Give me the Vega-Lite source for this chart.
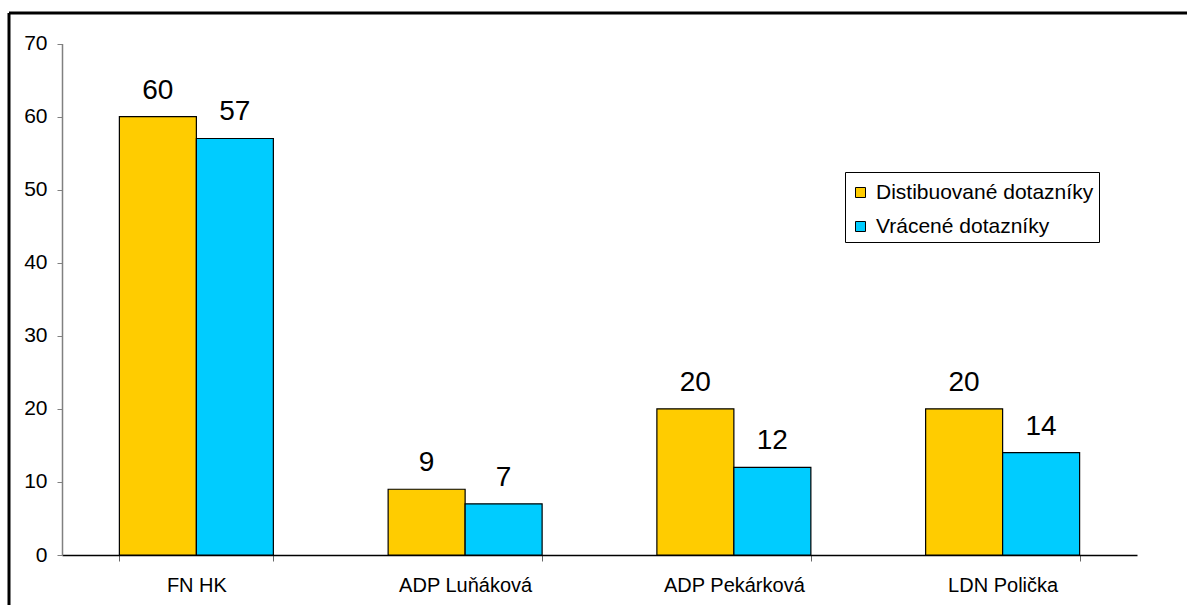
{
  "$schema": "https://vega.github.io/schema/vega-lite/v6.json",
  "autosize": {"type": "none"},
  "padding": {"left": 9, "top": 13, "right": 0, "bottom": 0},
  "width": 1178,
  "height": 592,
  "background": "white",
  "config": {
    "view": {"stroke": "black", "strokeWidth": 3, "strokeDash": [1178, 1770, 592, 0]},
    "font": "Liberation Sans"
  },
  "data": {
    "values": [
      {"place": "FN HK", "series": "Distibuované dotazníky", "value": 60},
      {"place": "FN HK", "series": "Vrácené dotazníky", "value": 57},
      {"place": "ADP Luňáková", "series": "Distibuované dotazníky", "value": 9},
      {"place": "ADP Luňáková", "series": "Vrácené dotazníky", "value": 7},
      {"place": "ADP Pekárková", "series": "Distibuované dotazníky", "value": 20},
      {"place": "ADP Pekárková", "series": "Vrácené dotazníky", "value": 12},
      {"place": "LDN Polička", "series": "Distibuované dotazníky", "value": 20},
      {"place": "LDN Polička", "series": "Vrácené dotazníky", "value": 14}
    ]
  },
  "encoding": {
    "x": {
      "field": "place",
      "type": "nominal",
      "sort": null,
      "title": null,
      "scale": {"range": [53, 1128], "paddingInner": 0.427, "paddingOuter": 0.2135},
      "axis": {
        "offset": -50,
        "labelAngle": 0,
        "labelFontSize": 20,
        "labelColor": "black",
        "labelPadding": 14,
        "tickBand": "extent",
        "tickSize": 6,
        "tickColor": "#666",
        "domainColor": "black",
        "domainWidth": 1.5,
        "grid": false
      }
    },
    "xOffset": {"field": "series", "type": "nominal", "sort": null},
    "y": {
      "field": "value",
      "type": "quantitative",
      "title": null,
      "scale": {"domain": [0, 70], "range": [542, 30.5], "nice": false},
      "axis": {
        "offset": -53,
        "values": [0, 10, 20, 30, 40, 50, 60, 70],
        "labelFontSize": 21,
        "labelColor": "black",
        "labelPadding": 10,
        "tickSize": 5,
        "tickColor": "#808080",
        "domainColor": "#808080",
        "domainWidth": 1.5,
        "grid": false
      }
    }
  },
  "layer": [
    {
      "mark": {"type": "bar", "stroke": "black", "strokeWidth": 1.2},
      "encoding": {
        "color": {
          "field": "series",
          "type": "nominal",
          "sort": null,
          "scale": {"range": ["#FFCC00", "#00CCFF"]},
          "legend": {
            "title": " ",
            "titleFontSize": 5,
            "titlePadding": 0,
            "orient": "none",
            "legendX": 836,
            "legendY": 159,
            "padding": 5,
            "strokeColor": "black",
            "fillColor": "white",
            "symbolType": "square",
            "symbolSize": 100,
            "symbolStrokeColor": "black",
            "symbolStrokeWidth": 1,
            "labelFontSize": 21,
            "labelColor": "black",
            "labelOffset": 5,
            "rowPadding": 12,
            "labelLimit": 400
          }
        }
      }
    },
    {
      "mark": {"type": "text", "baseline": "alphabetic", "dy": -18, "fontSize": 28, "color": "black"},
      "encoding": {"text": {"field": "value", "type": "quantitative"}}
    }
  ]
}
